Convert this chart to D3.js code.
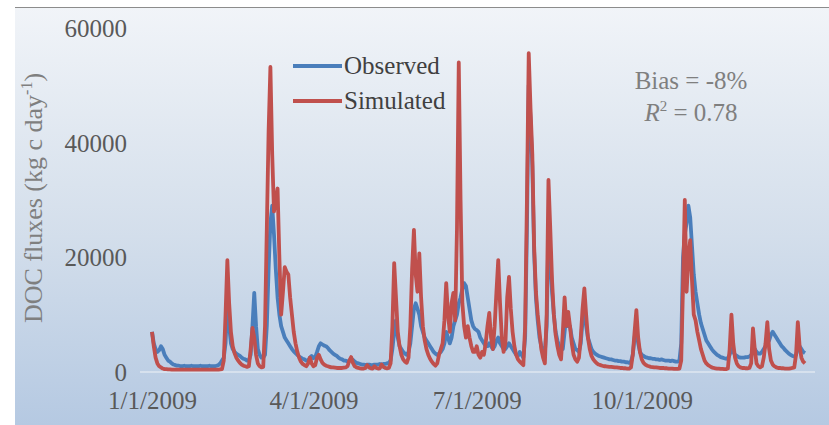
<!DOCTYPE html>
<html>
<head>
<meta charset="utf-8">
<script src="https://cdn.jsdelivr.net/npm/d3@7"></script>
<style>
  html, body { margin: 0; padding: 0; background: #fff; }
  svg { display: block; }
</style>
</head>
<body>
<svg id="chart" width="829" height="425"></svg>
<script>
// daily DOC fluxes for 2009 (kg c / day)
const startDate = '2009-01-01';
const observed = [
  7000, 5000, 4000, 3500, 3800, 4500, 4000, 3000, 2500, 2000, 1800, 1500, 1300,
  1200, 1100, 1100, 1000, 1000, 1100, 1000, 1000, 1000, 1100, 1000, 1000, 1000, 1000, 1100, 1000, 1000, 1000, 1000, 1100, 1000, 1000, 1000, 1100,
  1200, 1500, 2000, 2500, 5000, 12000, 8000, 5000, 4000, 3500, 3200, 3000, 2800, 2500, 2300, 2200, 2000, 2000,
  3000, 8000, 13800, 8000, 4000, 3000, 2500, 2500, 3000,
  8000, 18000, 26000, 29000, 24000, 18000, 13000, 10000, 8000, 7000, 6000, 5500, 5000, 4500, 4000, 3600, 3300, 3000, 2700, 2500, 2300, 2200, 2000, 2000,
  2500, 2800, 2400, 2600, 3500, 4500, 5000, 4800, 4600, 4500, 4200, 3800, 3500, 3200, 3000, 2800, 2500, 2300, 2200, 2000, 2000, 1800, 2000, 2300, 2100, 1800, 1600, 1500, 1400,
  1300, 1300, 1200, 1300, 1300, 1200, 1200, 1300, 1300, 1300, 1400, 1300, 1400, 1400, 1500, 1600, 2000,
  4000, 7000, 9000, 6000, 4500, 4000, 3500, 3200, 3000, 3500, 5000, 8000, 11000, 12000, 11000, 10000, 8000, 7000, 6000, 5500, 5000, 4500, 4000, 3500, 3200, 3000, 3200,
  3500, 4000, 5000, 7000, 6000, 5000, 6000, 8000, 9000, 10000, 12000, 13000, 14500, 15500, 15000, 13000, 11000, 9000, 8000, 7500, 7300, 7000, 6000,
  5500, 5000, 4500, 4500, 5000, 4500, 4000, 4500, 5500, 6000, 5000, 4500, 4000, 4000, 4500, 5000, 4500, 4000, 3500, 3000, 2800, 3500, 3000, 2500,
  6000, 25000, 50000, 44000, 36000, 21000, 13000, 9000, 6000, 4500, 3500, 3500,
  8000, 25000, 20000, 14000, 10000, 7000, 5500, 4500, 4000, 4000, 7000, 10000, 8000, 8000, 6000, 5000, 4000, 3800, 3500,
  5000, 9000, 11000, 8000, 6000, 5000, 4000, 3500, 3200, 3000, 2800, 2700, 2600, 2500, 2400,
  2300, 2200, 2200, 2100, 2000, 2000, 1900, 1900, 1800, 1800, 1700, 1700, 1600, 1800,
  3000, 6000, 8000, 5000, 3500, 3000, 2800, 2600,
  2500, 2400, 2400, 2300, 2300, 2200, 2200, 2100, 2200, 2100, 2000, 2000, 2000, 1900, 2000, 1900, 1800, 1800,
  2000, 5000, 20000, 24000, 26000, 29000, 27000, 22000, 17000, 14000, 12000, 10000, 8500, 7500, 6500, 5500, 5000, 4500, 4000, 3600, 3300, 3000, 2800, 2600, 2500, 2400, 2300, 2400,
  3000, 4000, 3500, 3000, 2800, 2600, 2500, 2500, 2500, 2600, 2600, 2700, 3000, 3500, 4000, 3500, 3200, 3200, 3500, 4000,
  4500, 5000, 5500, 6500, 7000, 6500, 6000, 5500, 5000, 4500, 4200, 3800, 3500, 3200, 3000, 2800, 2700, 3000, 4000, 4500, 4000, 3500, 3300
];
const simulated = [
  7000, 4500, 2500, 1500, 1000, 800, 600,
  500, 500, 450, 450, 400, 400, 400, 400, 400, 400, 400, 400, 400, 400, 400, 400, 400, 400, 400, 400,
  400, 400, 400, 400, 400, 400, 400, 400, 400, 400, 400, 450, 500,
  2000, 10000, 19500, 12000, 7000, 4500, 3300, 2500, 2000, 1600, 1300, 1100, 1000, 900, 1000, 4000, 7700, 6000, 3000, 1500, 1000, 800, 900,
  8000, 25000, 42000, 53200, 38000, 28000, 30000, 32000, 20000, 10000, 14000, 18300, 17500, 17000, 13000, 10000, 7000, 5000, 3500, 2500, 1800, 1400, 1200, 1000,
  1500, 2500, 1500, 1000, 1200, 2500, 3000, 2200, 1600, 1300, 1100, 1000, 900, 800, 800, 750, 700, 700, 700, 700, 750, 800, 1000, 2000,
  2600, 1600, 1000, 800, 700, 650, 600, 600, 700, 1200, 800, 650, 600, 1000, 700, 600, 650, 1300, 900, 700, 650, 700, 1500,
  8000, 19000, 13000, 7000, 4500, 3000, 2200, 1800, 1600, 2500, 8000, 18000, 24800, 17000, 14000, 20700, 13000, 8000, 5500, 4000, 3000, 2300, 1800, 1400, 1100, 1500,
  3000, 4000, 5000, 9000, 15500, 10000, 7000, 12000, 13800, 9000, 25000, 54000, 30000, 12000, 8000, 6000, 8000, 6000, 4500, 3500, 3500, 4500, 3000, 2500, 3500,
  3000, 5000, 8000, 10300, 6000, 4000, 8000, 14000, 19500, 12000, 6000, 3500, 5000, 13000, 16600, 11000, 7000, 4500, 3000, 2200, 1800, 1500, 1200,
  8000, 30000, 55600, 46000, 38000, 22000, 14000, 10000, 7000, 4000, 2500, 1500,
  10000, 33500, 25000, 16000, 10000, 6500, 4500, 3000, 2200, 7000, 13000, 8000, 10500, 8000, 5000, 3000, 2200, 1800, 2500,
  6000, 11000, 14600, 10000, 6000, 4000, 2800, 2200, 1800, 1500, 1300, 1200, 1100, 1000, 1000,
  950, 900, 900, 850, 800, 800, 750, 700, 700, 650, 650, 600, 600, 800,
  3000, 7000, 10800, 6000, 3500, 2200, 1600, 1300,
  1100, 1000, 900, 850, 800, 800, 750, 700, 700, 700, 650, 650, 600, 600, 600, 550, 550, 550,
  600, 2000, 15000, 30000, 14000, 20000, 23000, 16000, 10000, 9000, 7000, 5500, 4000, 3000, 2000, 1500, 1200, 1000, 800, 700, 650, 600, 600, 550, 550, 500, 500, 600,
  4000, 10000, 5000, 2500, 1500, 1000, 800, 700, 700, 650, 650, 700, 1500, 7600, 4000, 1500, 1000, 800, 1000, 2500,
  5000, 8700, 4000, 2000, 1300, 1000, 800, 700, 700, 650, 650, 600, 600, 600, 650, 700, 800, 3000, 8700, 4500, 2500, 1800, 1500
];
const xTickLabels = ['1/1/2009', '4/1/2009', '7/1/2009', '10/1/2009'];
const yTicks = [0, 20000, 40000, 60000];

const svg = d3.select('#chart');
const W = 829, H = 425;
const serif = '"Liberation Serif"';

// background panel with Excel-style gradient
const defs = svg.append('defs');
const grad = defs.append('linearGradient').attr('id', 'bg')
  .attr('x1', 0).attr('y1', 0).attr('x2', 0).attr('y2', 1);
grad.append('stop').attr('offset', '0%').attr('stop-color', '#f1f4f8');
grad.append('stop').attr('offset', '55%').attr('stop-color', '#d3deeb');
grad.append('stop').attr('offset', '100%').attr('stop-color', '#b5c9e2');
svg.append('rect').attr('x', 15).attr('y', 7).attr('width', W - 15).attr('height', H - 7)
  .attr('fill', 'url(#bg)');
svg.append('line').attr('x1', 15).attr('x2', W).attr('y1', 7.5).attr('y2', 7.5)
  .attr('stroke', '#8c8c8c').attr('stroke-width', 1);

const parse = d3.timeParse('%m/%d/%Y');
const t0 = d3.timeParse('%Y-%m-%d')(startDate);
const dates = observed.map((d, i) => d3.timeDay.offset(t0, i));

const x = d3.scaleTime()
  .domain([dates[0], dates[dates.length - 1]])
  .range([152, 805]);
const y = d3.scaleLinear().domain([0, 60000]).range([372, 28]);

// x axis baseline
svg.append('line').attr('x1', 140).attr('x2', 815)
  .attr('y1', y(0)).attr('y2', y(0))
  .attr('stroke', '#dfe7f1').attr('stroke-width', 1.5);

const yAxis = d3.axisLeft(y).tickValues(yTicks).tickSize(0).tickPadding(0)
  .tickFormat(d3.format('d'));
const gy = svg.append('g').attr('transform', 'translate(127,0)').call(yAxis);
gy.select('.domain').remove();
gy.selectAll('text').style('font-family', serif).attr('font-size', 25)
  .attr('fill', '#595959').attr('dy', '0.34em');

const xAxis = d3.axisBottom(x).tickValues(xTickLabels.map(parse)).tickSize(0).tickPadding(0)
  .tickFormat((d, i) => xTickLabels[i]);
const gx = svg.append('g').attr('transform', 'translate(0,400)').call(xAxis);
gx.select('.domain').remove();
gx.selectAll('text').style('font-family', serif).attr('font-size', 25)
  .attr('fill', '#595959').attr('dy', '0.34em');

// y axis title
const title = svg.append('text')
  .attr('transform', 'translate(42,198) rotate(-90)')
  .attr('text-anchor', 'middle').style('font-family', serif)
  .attr('font-size', 26).attr('fill', '#7f7f7f');
title.append('tspan').text('DOC fluxes (kg c day');
title.append('tspan').attr('font-size', 16).attr('dy', -10).text('-1');
title.append('tspan').attr('dy', 10).text(')');

// series
const line = d3.line().x((d, i) => x(dates[i])).y(d => y(d)).curve(d3.curveLinear);
svg.append('path').datum(observed).attr('d', line)
  .attr('fill', 'none').attr('stroke', '#4a7ebb').attr('stroke-width', 3.8)
  .attr('stroke-linejoin', 'round');
svg.append('path').datum(simulated).attr('d', line)
  .attr('fill', 'none').attr('stroke', '#c0504d').attr('stroke-width', 3.8)
  .attr('stroke-linejoin', 'round');

// legend
const legend = [
  { name: 'Observed', color: '#4a7ebb', y: 66 },
  { name: 'Simulated', color: '#c0504d', y: 101 }
];
legend.forEach(l => {
  svg.append('line').attr('x1', 293).attr('x2', 342).attr('y1', l.y).attr('y2', l.y)
    .attr('stroke', l.color).attr('stroke-width', 4);
  svg.append('text').attr('x', 344).attr('y', l.y + 8).style('font-family', serif)
    .attr('font-size', 25).attr('fill', '#404040').text(l.name);
});

// statistics
svg.append('text').attr('x', 691).attr('y', 89).attr('text-anchor', 'middle')
  .style('font-family', serif)
  .attr('font-size', 25).attr('fill', '#7f7f7f').text('Bias = -8%');
const r2 = svg.append('text').attr('x', 691).attr('y', 121).attr('text-anchor', 'middle')
  .style('font-family', serif)
  .attr('font-size', 25).attr('fill', '#7f7f7f');
r2.append('tspan').attr('font-style', 'italic').text('R');
r2.append('tspan').attr('font-size', 15).attr('dy', -10).text('2');
r2.append('tspan').attr('dy', 10).text(' = 0.78');
</script>
</body>
</html>
